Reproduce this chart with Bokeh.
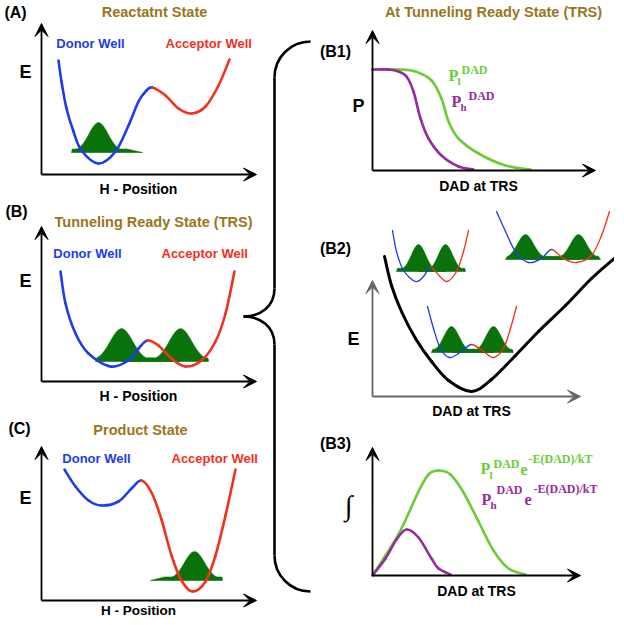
from bokeh.plotting import figure
from bokeh.models import Range1d, ColumnDataSource, Arrow, VeeHead
from bokeh.core.properties import value
from bokeh.embed import file_html
from bokeh.resources import INLINE

# ---------------- colours ----------------
GOLD = "#9C741C"
BLUE = "#1E3CEB"
RED = "#F2301E"
DKGREEN = "#0A720A"
LTGREEN = "#6ACD35"
PURPLE = "#962C9E"

# ---------------- data ----------------
# double-well potentials (blue up to barrier index, red after)
A_well_x = [60, 63, 68, 75, 83, 100, 117, 130, 140, 148, 154, 167, 180, 193, 207, 220, 231]
A_well_y = [62, 83, 110, 133, 152, 165, 153, 127, 103, 92, 89, 97, 110, 115, 108, 87, 61]
A_barrier = 10
B_well_x = [62, 67, 77, 90, 112, 130, 140, 149, 160, 173, 187, 203, 217, 227, 236]
B_well_y = [273, 305, 335, 355, 368, 362, 350, 342, 347, 360, 368, 362, 343, 315, 273]
B_barrier = 7
C_well_x = [66, 77, 90, 103, 120, 133, 143, 153, 163, 173, 183, 194, 207, 217, 227, 237]
C_well_y = [471, 488, 502, 507, 503, 490, 482, 494, 521, 557, 582, 593, 583, 557, 517, 471]
C_barrier = 6
I1_well_x = [394, 398, 405, 417, 425, 432, 437, 448, 458, 465, 470]
I1_well_y = [232, 253, 272, 283, 278, 268, 273, 283, 273, 253, 232]
I2_well_x = [498, 507, 517, 530, 543, 553, 565, 578, 593, 603, 611]
I2_well_y = [213, 233, 253, 264, 260, 251, 260, 264, 257, 237, 213]
I3_well_x = [429, 435, 442, 451, 463, 473, 485, 495, 505, 512, 518]
I3_well_y = [308, 330, 350, 359, 353, 346, 353, 359, 350, 330, 308]
inset_barrier = 5

# B1 probabilities
B1_l_x = [374, 400, 417, 433, 443, 450, 460, 480, 507, 532]
B1_l_y = [71, 71, 73, 82, 100, 123, 140, 155, 167, 171]
B1_h_x = [374, 390, 400, 408, 415, 422, 430, 443, 460, 475]
B1_h_y = [71, 71, 73, 78, 93, 120, 140, 157, 168, 171]
# B2 energy along DAD
B2_E_x = [386, 393, 403, 417, 433, 450, 473, 493, 517, 540, 567, 593, 618]
B2_E_y = [258, 287, 313, 340, 363, 382, 393, 381, 357, 333, 307, 280, 258]
# B3 integrands
B3_l_x = [374, 387, 403, 420, 430, 440, 452, 465, 480, 495, 510, 527]
B3_l_y = [577, 557, 530, 493, 476, 472, 476, 494, 523, 552, 570, 576]
B3_h_x = [374, 387, 398, 408, 420, 433, 440, 452]
B3_h_y = [577, 560, 541, 531, 539, 560, 570, 576]

# wavefunction humps: centre, peak y, base y, width, base strip left/right
hump_c = [100, 123, 182, 196, 420, 447, 527, 580, 453, 495]
hump_peak = [124, 330, 330, 553, 246, 246, 236, 236, 328, 328]
hump_base = [153, 362, 362, 581, 272, 272, 260, 260, 353, 353]
hump_sig = [9.5, 11, 11, 10, 7, 7, 8, 8, 7.5, 7.5]
hump_xl = [73, 97, 123, 152, 398, 420, 507, 527, 433, 453]
hump_xr = [144, 182, 210, 224, 447, 467, 580, 602, 495, 515]
hump_tail = [2.5, 2.5, 2.5, 2.5, 2.2, 2.2, 2.2, 2.2, 2.2, 2.2]
GAUSS_HALF = [1.0, 0.969, 0.882, 0.755, 0.607, 0.458, 0.325, 0.216, 0.135, 0.080, 0.044, 0.023, 0.011]

# axes (start = origin, end = arrow tip)
ax_x0 = [43, 43, 43, 43, 43, 43, 374, 374, 374, 374, 374, 374]
ax_y0 = [176, 176, 383, 383, 602, 602, 172, 172, 398, 398, 577, 577]
ax_x1 = [43, 258, 43, 258, 43, 258, 374, 597, 374, 582, 374, 582]
ax_y1 = [25, 176, 228, 383, 448, 602, 32, 172, 282, 398, 449, 577]
ax_col = ["black"] * 8 + ["#666666"] * 2 + ["black"] * 2

# labels
panel_labels = ["(A)", "(B)", "(C)", "(B1)", "(B2)", "(B3)"]
panel_lx = [17, 18, 21, 337, 337, 337]
panel_ly = [14, 213, 430, 53, 250, 445]
titles = ["Reactatnt State", "Tunneling Ready State (TRS)", "Product State", "At Tunneling Ready State (TRS)"]
title_x = [156, 155, 142, 495]
title_y = [13, 223, 431, 13]
donor_x = [92, 89, 98]
donor_y = [45, 255, 460]
acc_x = [167, 163, 173]
acc_y = [45, 255, 460]
hpos_x = [140, 140, 140]
hpos_y = [190, 397, 611.5]
dad_x = [480, 473, 478]
dad_y = [187, 412, 592]
E_x = [27, 27, 27, 355]
E_y = [73, 282, 499, 340]

# ---------------- figure ----------------
p = figure(width=614, height=617, x_range=Range1d(2, 616), y_range=Range1d(619, 2),
           output_backend="svg", toolbar_location=None, min_border=0,
           x_axis_location=None, y_axis_location=None)
p.grid.visible = False
p.outline_line_color = None
p.background_fill_color = "white"
p.border_fill_color = "white"


def bez(xs, ys):
    n = len(xs)
    d = {k: [] for k in ("x0", "y0", "x1", "y1", "cx0", "cy0", "cx1", "cy1")}
    for i in range(n - 1):
        a = max(i - 1, 0)
        b = min(i + 2, n - 1)
        d["x0"].append(xs[i]); d["y0"].append(ys[i])
        d["x1"].append(xs[i + 1]); d["y1"].append(ys[i + 1])
        d["cx0"].append(xs[i] + (xs[i + 1] - xs[a]) / 6)
        d["cy0"].append(ys[i] + (ys[i + 1] - ys[a]) / 6)
        d["cx1"].append(xs[i + 1] - (xs[b] - xs[i]) / 6)
        d["cy1"].append(ys[i + 1] - (ys[b] - ys[i]) / 6)
    return d


def curve(xs, ys, width, color=None, split=None):
    d = bez(xs, ys)
    if split is not None:
        d["c"] = [BLUE if i < split else RED for i in range(len(xs) - 1)]
    else:
        d["c"] = [color] * (len(xs) - 1)
    p.bezier(x0="x0", y0="y0", x1="x1", y1="y1", cx0="cx0", cy0="cy0", cx1="cx1", cy1="cy1",
             source=ColumnDataSource(d), line_color="c", line_width=width, line_cap="round")


# humps first
us = [-k * 0.25 for k in range(12, 0, -1)] + [k * 0.25 for k in range(13)]
gs = list(reversed(GAUSS_HALF[1:])) + GAUSS_HALF
for c, pk, base, sg, xl, xr, tl in zip(hump_c, hump_peak, hump_base, hump_sig, hump_xl, hump_xr, hump_tail):
    h = base - pk
    xs = [xl]
    ys = [base + 1]
    for u, g in zip(us, gs):
        x = c + u * sg
        if xl < x < xr:
            xs.append(x)
            ys.append(base - max(h * g, tl))
    xs.append(xr)
    ys.append(base + 1)
    p.patch(xs, ys, fill_color=DKGREEN, line_color=DKGREEN, line_width=0.6)

# wells
curve(A_well_x, A_well_y, 2.6, split=A_barrier)
curve(B_well_x, B_well_y, 2.6, split=B_barrier)
curve(C_well_x, C_well_y, 2.6, split=C_barrier)
curve(I1_well_x, I1_well_y, 1.3, split=inset_barrier)
curve(I2_well_x, I2_well_y, 1.3, split=inset_barrier)
curve(I3_well_x, I3_well_y, 1.3, split=inset_barrier)
curve(B1_l_x, B1_l_y, 2.6, color=LTGREEN)
curve(B1_h_x, B1_h_y, 2.6, color=PURPLE)
curve(B2_E_x, B2_E_y, 3.0, color="black")
curve(B3_l_x, B3_l_y, 2.6, color=LTGREEN)
curve(B3_h_x, B3_h_y, 2.6, color=PURPLE)

# axes
for x0, y0, x1, y1, col in zip(ax_x0, ax_y0, ax_x1, ax_y1, ax_col):
    p.add_layout(Arrow(end=VeeHead(size=13, fill_color=col, line_color=col, line_width=1),
                       x_start=x0, y_start=y0, x_end=x1, y_end=y1,
                       line_color=col, line_width=1.8))

# brace
brace = dict(x0=[312, 276, 245, 276], y0=[43, 290, 318, 557],
             x1=[276, 245, 276, 312], y1=[79, 318, 346, 593],
             cx0=[292, 276, 262, 276], cy0=[43, 308, 318, 577],
             cx1=[276, 262, 276, 292], cy1=[59, 318, 328, 593])
p.bezier(x0="x0", y0="y0", x1="x1", y1="y1", cx0="cx0", cy0="cy0", cx1="cx1", cy1="cy1",
         source=ColumnDataSource(brace), line_color="black", line_width=2.6)
p.segment(x0=[276, 276], y0=[79, 346], x1=[276, 276], y1=[290, 557], line_color="black", line_width=2.6)


def txt(xs, ys, texts, size, color="black", font="Liberation Sans", style="bold", align="center"):
    p.text(x=xs, y=ys, text=texts, text_font=value(font), text_font_size=f"{size}px",
           text_font_style=style, text_color=color, text_align=align, text_baseline="middle")


txt(panel_lx, panel_ly, panel_labels, 16)
txt(title_x, title_y, titles, 14.5, color=GOLD)
txt(donor_x, donor_y, ["Donor Well"] * 3, 13, color=BLUE)
txt(acc_x, acc_y, ["Acceptor Well"] * 3, 13, color=RED, align="left")
txt(hpos_x[:2], hpos_y[:2], ["H - Position"] * 2, 14)
txt(hpos_x[2:], hpos_y[2:], ["H - Position"], 13.5)
txt(dad_x, dad_y, ["DAD at TRS"] * 3, 14)
txt(E_x, E_y, ["E"] * 4, 18)
txt([360], [107], ["P"], 18)
txt([350], [507], ["\u222b"], 28, font="Liberation Serif", style="italic")

SERIF = "Liberation Serif"
# B1 legend
txt([450], [77], ["P"], 16, color=LTGREEN, font=SERIF, align="left")
txt([459], [82], ["l"], 11, color=LTGREEN, font=SERIF, align="left")
txt([463], [71], ["DAD"], 12, color=LTGREEN, font=SERIF, align="left")
txt([453], [103], ["P"], 16, color=PURPLE, font=SERIF, align="left")
txt([462], [108], ["h"], 11, color=PURPLE, font=SERIF, align="left")
txt([470], [97], ["DAD"], 12, color=PURPLE, font=SERIF, align="left")
# B3 legend
txt([482], [470], ["P"], 16, color=LTGREEN, font=SERIF, align="left")
txt([491], [476], ["l"], 11, color=LTGREEN, font=SERIF, align="left")
txt([495], [465], ["DAD"], 12, color=LTGREEN, font=SERIF, align="left")
txt([522], [471], ["e"], 16, color=LTGREEN, font=SERIF, align="left")
txt([530], [460], ["-E(DAD)/kT"], 12, color=LTGREEN, font=SERIF, align="left")
txt([483], [501], ["P"], 16, color=PURPLE, font=SERIF, align="left")
txt([492], [506], ["h"], 11, color=PURPLE, font=SERIF, align="left")
txt([498], [491], ["DAD"], 12, color=PURPLE, font=SERIF, align="left")
txt([526], [501], ["e"], 16, color=PURPLE, font=SERIF, align="left")
txt([535], [490], ["-E(DAD)/kT"], 12, color=PURPLE, font=SERIF, align="left")

open("out.html", "w").write(file_html(p, INLINE))
